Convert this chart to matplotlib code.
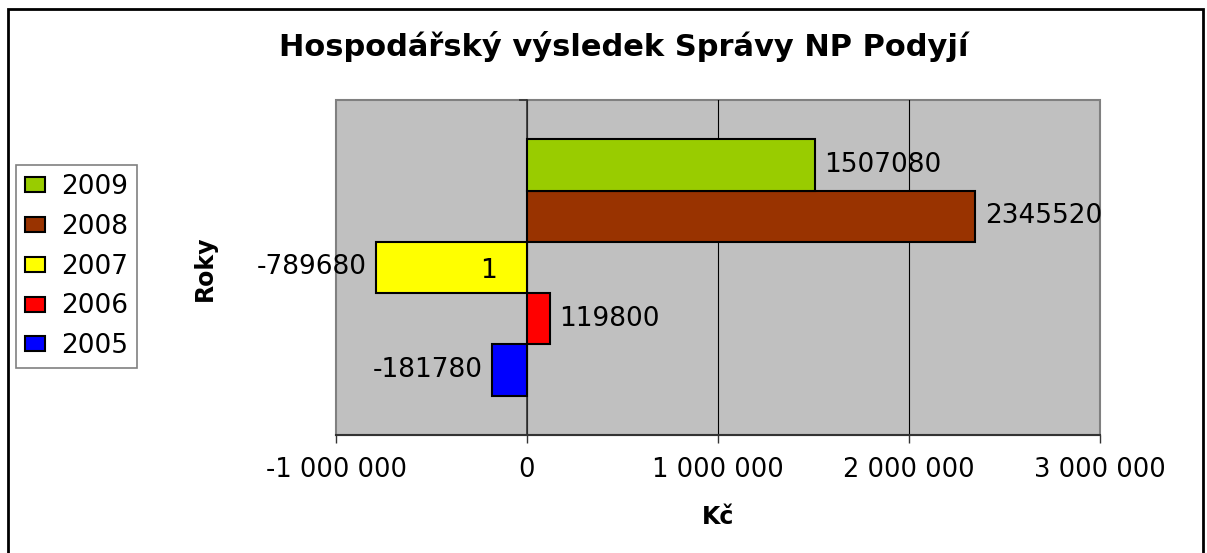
import matplotlib
matplotlib.use('Agg')
import matplotlib.pyplot as plt
from matplotlib.patches import Patch, Rectangle
from matplotlib.ticker import FixedLocator, FuncFormatter

plt.rcParams['font.family'] = ['DejaVu Sans']

# data
years = ['2005', '2006', '2007', '2008', '2009']
results = [-181780, 119800, -789680, 2345520, 1507080]
colors = ['#0000FF', '#FF0000', '#FFFF00', '#993300', '#99CC00']
category = '1'
x_ticks = [-1000000, 0, 1000000, 2000000, 3000000]

W, H = 1207, 553
fig = plt.figure(figsize=(W / 100, H / 100), dpi=100)
ax = fig.add_axes([336 / W, 1 - 435 / H, (1100 - 336) / W, (435 - 100) / H])

# plot area
ax.patch.set_facecolor('#C0C0C0')
ax.patch.set_edgecolor('#808080')
ax.patch.set_linewidth(1.5)

pos = list(range(len(years)))
bars = ax.barh(pos, results, height=1.0, color=colors, edgecolor='black',
               linewidth=1.5, zorder=3)
ax.bar_label(bars, labels=[str(v) for v in results], padding=7, fontsize=19)

ax.set_xlim(x_ticks[0], x_ticks[-1])
ax.set_ylim(-1.27, len(years) - 1 + 1.27)

ax.xaxis.set_major_locator(FixedLocator(x_ticks))
ax.xaxis.set_major_formatter(FuncFormatter(lambda x, p: f'{int(x):,}'.replace(',', ' ')))
ax.tick_params(axis='x', direction='out', length=6, width=1, color='#333333',
               labelsize=18.5, pad=10)
ax.grid(axis='x', color='black', linewidth=0.8, zorder=1)
ax.set_axisbelow(True)
gl = ax.get_xgridlines()
gl[0].set_visible(False)
gl[-1].set_visible(False)

# category axis crossing at zero, its label drawn over the bars
ax.spines['left'].set_position(('data', 0))
ax.spines['left'].set_color('#333333')
ax.spines['left'].set_linewidth(1.2)
ax.spines['left'].set_zorder(2)
ax.spines['top'].set_visible(False)
ax.spines['right'].set_visible(False)
ax.spines['bottom'].set_color('#333333')
ax.spines['bottom'].set_linewidth(1.5)
ax.set_yticks([2])
ax.set_yticklabels([category])
ax.set_yticks([-1.27, len(years) - 1 + 1.27], minor=True)
ax.tick_params(axis='y', which='major', length=0, labelsize=19, pad=22)
ax.tick_params(axis='y', which='minor', length=6, width=1.2, color='#333333')
ax.yaxis.set_zorder(5)

ax.set_xlabel('Kč', fontsize=17, fontweight='bold', labelpad=16)
fig.text(205 / W, 1 - 268 / H, 'Roky', rotation=90, fontsize=17,
         fontweight='bold', ha='center', va='center')

fig.text(624 / W, 1 - 46 / H, 'Hospodářský výsledek Správy NP Podyjí',
         fontsize=22, fontweight='bold', ha='center', va='center')

handles = [Patch(facecolor=c, edgecolor='black', linewidth=1.5) for c in colors[::-1]]
leg = fig.legend(handles, years[::-1], loc='upper left',
                 bbox_to_anchor=(16 / W, 1 - 165 / H), fontsize=19,
                 handlelength=0.76, handleheight=0.5, handletextpad=0.6,
                 labelspacing=0.52, borderpad=0.35, borderaxespad=0,
                 fancybox=False, framealpha=1)
leg.get_frame().set_edgecolor('#808080')
leg.get_frame().set_linewidth(1.2)

# outer chart border
fig.patches.append(Rectangle((8 / W, -0.05), (1203 - 8) / W, 1.05 - 9 / H,
                             transform=fig.transFigure, fill=False,
                             edgecolor='black', linewidth=2))

fig.savefig('out.png', dpi=100)
